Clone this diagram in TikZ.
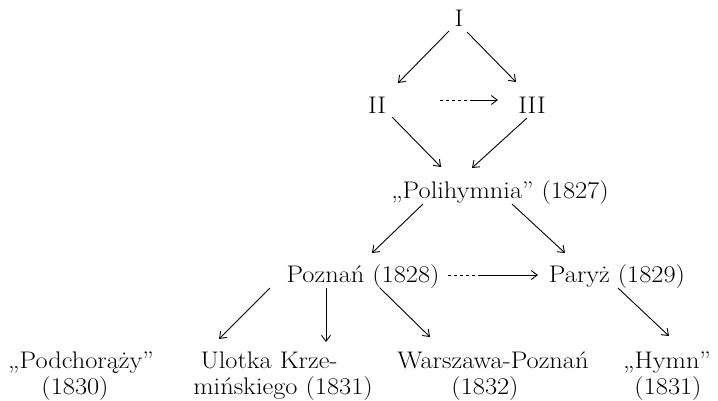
\documentclass[tikz,border=0pt]{standalone}
\usetikzlibrary{arrows.meta,calc}
\newcommand{\wtxt}[1]{\scalebox{1.1}[1]{#1}}
\begin{document}
\begin{tikzpicture}[x=1pt,y=-1pt,
  lbl/.style={inner sep=0pt, anchor=base, font=\fontsize{24}{26}\selectfont},
  arr/.style={line width=0.9pt, -{Straight Barb[length=6pt,width=9pt]}},
  faintstart/.style={arr, dash pattern=on 3pt off 3pt on 3pt off 3pt on 3pt off 3pt on 3pt off 3pt on 3pt off 3pt on 200pt off 0pt}]
\useasboundingbox (0,0) rectangle (718,400);
\node[lbl] (I)    at (459,26)  {\wtxt{I}};
\node[lbl] (II)   at (377,113) {\wtxt{II}};
\node[lbl] (III)  at (532,113) {\wtxt{III}};
\node[lbl] (poly) at (500,198) {\wtxt{„Polihymnia”\ (1827)}};
\node[lbl] (poz)  at (363,282) {\wtxt{Poznań\ (1828)}};
\node[lbl] (par)  at (617,282) {\wtxt{Paryż\ (1829)}};
\node[lbl] (pod)  at (81,368)  {\wtxt{„Podchorąży”}};
\node[lbl] (podY) at (75,394)  {\wtxt{(1830)}};
\node[lbl] (ulo)  at (269,368) {\wtxt{Ulotka Krze-}};
\node[lbl] (uloY) at (283,394) {\wtxt{mińskiego (1831)}};
\node[lbl] (war)  at (493,368) {\wtxt{Warszawa-Poznań}};
\node[lbl] (warY) at (485,394) {\wtxt{(1832)}};
\node[lbl] (hym)  at (667,368) {\wtxt{„Hymn”}};
\node[lbl] (hymY) at (668,394) {\wtxt{(1831)}};
\draw[arr] ($(I.base)+(-10,5)$) -- ($(II.base)+(21,-30)$);
\draw[arr] ($(I.base)+(8,6)$) -- ($(III.base)+(-16,-31)$);
\draw[faintstart] ($(II.base)+(63,-13)$) -- ($(III.base)+(-34,-13)$);
\draw[arr] ($(II.base)+(15,4)$) -- ($(poly.base)+(-59,-31)$);
\draw[arr] ($(III.base)+(-5,5)$) -- ($(poly.base)+(-28,-30)$);
\draw[arr] ($(poly.base)+(-77,6)$) -- ($(poz.base)+(9,-29)$);
\draw[arr] ($(poly.base)+(12,6)$) -- ($(par.base)+(-52,-29)$);
\draw[faintstart] ($(poz.base)+(85,-7)$) -- ($(par.base)+(-79,-7)$);
\draw[arr] ($(poz.base)+(-93,6)$) -- ($(ulo.base)+(-50,-29)$);
\draw[arr] ($(poz.base)+(-37,6)$) -- ($(ulo.base)+(57,-26)$);
\draw[arr] ($(poz.base)+(17,6)$) -- ($(war.base)+(-63,-31)$);
\draw[arr] ($(par.base)+(1,6)$) -- ($(hym.base)+(2,-32)$);
\end{tikzpicture}
\end{document}
